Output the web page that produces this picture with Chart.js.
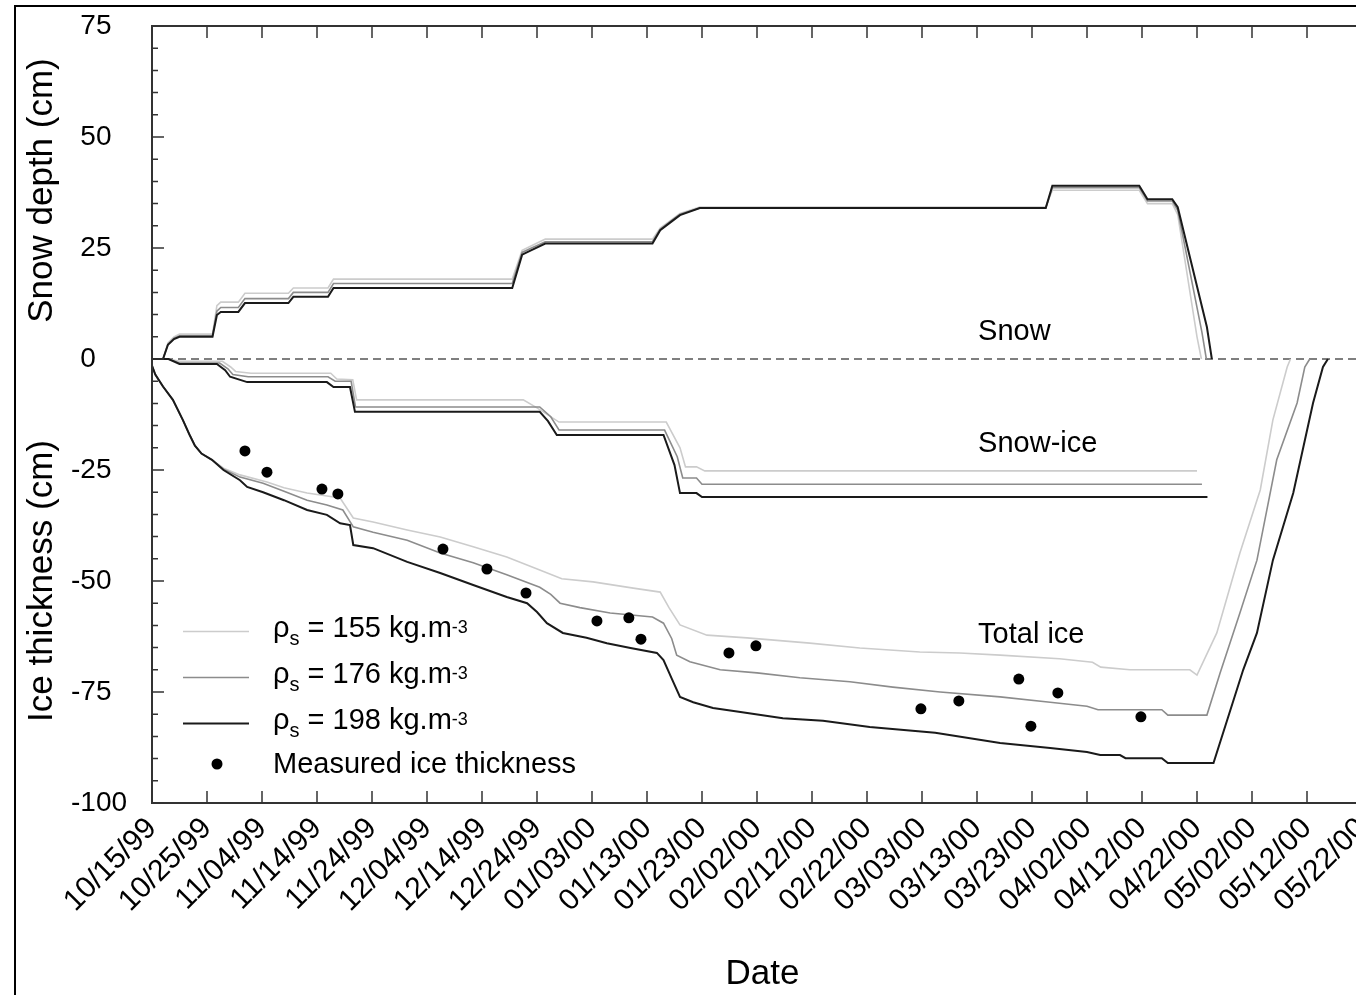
<!DOCTYPE html>
<html>
<head>
<meta charset="utf-8">
<title>Snow depth and ice thickness</title>
<script src="https://cdn.jsdelivr.net/npm/chart.js@4.4.1/dist/chart.umd.min.js"></script>
<style>
  html, body { margin: 0; padding: 0; background: #fff; overflow: hidden; }
  #frame { position: absolute; left: 14px; top: 5px; width: 2000px; height: 2000px;
           border-left: 2px solid #000; border-top: 2px solid #000; }
  #chart { position: absolute; left: 0; top: 0; }
</style>
</head>
<body>
<div id="frame"></div>
<canvas id="chart" width="1380" height="995"></canvas>
<script>
// Axis ticks (days since 10/15/99)
const tickDays = [0, 10, 20, 30, 40, 50, 60, 70, 80, 90, 100, 110, 120, 130, 140, 150, 160, 170, 180, 190, 200, 210, 220];
const tickLabels = ["10/15/99", "10/25/99", "11/04/99", "11/14/99", "11/24/99", "12/04/99", "12/14/99", "12/24/99",
  "01/03/00", "01/13/00", "01/23/00", "02/02/00", "02/12/00", "02/22/00", "03/03/00", "03/13/00", "03/23/00",
  "04/02/00", "04/12/00", "04/22/00", "05/02/00", "05/12/00", "05/22/00"];
const yTicks = [-100, -75, -50, -25, 0, 25, 50, 75];

// Snow depth (cm), [day, value]
const snow198 = [[0,0],[2,0],[2.9,3.2],[4,4.5],[5,5],[11,5],[11.8,9.9],[12.5,10.6],[15.7,10.6],[16.9,12.6],[24.8,12.6],[25.7,14],[32,14],[33,16],
  [65.5,16],[67.3,23.5],[69,24.5],[71.5,26],[91,26],[92.4,29],[94.5,31],[96,32.4],[99.6,34],[162.5,34],[163.7,39],[179.5,39],[181,36],
  [185.5,36],[186.5,34.2],[191.8,7.2],[192.7,0]];
const snow176 = [[0,0],[2,0],[2.9,3.3],[4,4.7],[5,5.2],[11,5.2],[11.8,10.8],[12.5,11.6],[15.7,11.6],[16.9,13.6],[24.8,13.6],[25.7,15],[32,15],[33,17],
  [65.5,17],[67.3,24],[69,25],[71.5,26.4],[91,26.4],[92.4,29.2],[94.5,31.2],[96,32.6],[99.6,34],[162.5,34],[163.7,38.6],[179.5,38.6],[181,35.6],
  [185.5,35.6],[186.5,33.5],[190.9,6],[191.7,0]];
const snow155 = [[0,0],[2,0],[2.9,3.6],[4,5],[5,5.6],[11,5.6],[11.8,12],[12.5,12.8],[15.7,12.8],[16.9,14.8],[24.8,14.8],[25.7,16],[32,16],[33,18],
  [65.5,18],[67.3,24.5],[69,25.5],[71.5,27],[91,27],[92.4,29.5],[94.5,31.4],[96,32.8],[99.6,34.2],[162.5,34.2],[163.7,38],[179.5,38],[181,35],
  [185.5,35],[186.5,32.5],[190,5],[190.8,0]];

// Snow-ice thickness (cm, negative downwards)
const snowIce198 = [[0,0],[3,0],[5,-1.1],[11.8,-1.1],[13.3,-2.5],[14.2,-4],[17.3,-5.2],[31.8,-5.2],[33,-6.3],[36,-6.3],[36.9,-11.9],
  [70.5,-11.9],[72,-14],[73.6,-17.1],[93,-17.1],[95,-23.9],[96,-30.2],[99,-30.2],[100,-31.1],[191.9,-31.1]];
const snowIce176 = [[0,0],[3,0],[5,-0.9],[12.3,-0.9],[13.8,-2.2],[14.7,-3.5],[17.5,-4],[32,-4],[33.3,-5],[36.2,-5],[37,-10.8],
  [70.5,-10.8],[72.5,-13],[74,-16],[93.2,-16],[95.5,-22],[96.5,-26.8],[99,-26.8],[100,-28.2],[190.9,-28.2]];
const snowIce155 = [[0,0],[3,0],[5,-0.5],[12.8,-0.5],[14.3,-1.8],[15.2,-2.8],[18,-3.2],[32.5,-3.2],[33.6,-4.5],[36.5,-4.7],[37.2,-9.2],
  [67.5,-9.2],[70,-11],[74,-14.2],[93.5,-14.2],[96,-20],[97,-24.3],[99,-24.3],[100.5,-25.2],[190,-25.2]];

// Total ice thickness (cm, negative downwards)
const totalIce198 = [[0,-1.5],[0.6,-3.5],[2,-6.2],[3.8,-9.2],[5.6,-13.7],[6.8,-17],[7.8,-19.5],[9,-21.3],[10.9,-22.7],[13,-25],[16,-27.3],
  [17.3,-28.8],[20.2,-30],[24,-31.8],[28.2,-34],[31.8,-35.1],[34.2,-37],[36,-37.4],[36.6,-41.9],[40.2,-42.6],[46.4,-45.7],[52.4,-48.2],
  [58.4,-50.9],[64.5,-53.6],[68.2,-55],[70,-57],[71.8,-59.5],[74.7,-61.7],[79,-62.8],[82.7,-64],[87,-65.1],[91.8,-66.2],[93,-67.8],
  [94.5,-72],[96,-76.1],[98.4,-77.3],[102,-78.6],[107,-79.5],[114.7,-80.9],[122,-81.5],[130.5,-82.9],[142.4,-84.2],[154.2,-86.5],
  [163.3,-87.6],[170,-88.5],[172.4,-89.2],[176,-89.2],[177,-89.9],[183.6,-89.9],[184.7,-91],[193,-91],[198.4,-70],[200.9,-61.7],
  [203.8,-45.3],[207.5,-30.2],[211.1,-9.9],[212.9,-1.8],[213.8,0]];
const totalIce176 = [[0,-1.5],[0.6,-3.5],[2,-6.2],[3.8,-9.2],[5.6,-13.7],[6.8,-17],[7.8,-19.5],[9,-21.3],[10.9,-22.7],[13,-24.8],[16,-26.6],
  [20.2,-28],[24,-29.8],[28.2,-31.8],[31.8,-32.9],[34.7,-34],[36.6,-37.8],[40.2,-39],[46.4,-40.8],[52.4,-43.7],[58.4,-45.9],[64.5,-48.6],
  [70.5,-51.4],[72.5,-53],[74.2,-55],[77.8,-56],[83.3,-57.2],[91,-58.1],[93,-59.5],[94.5,-63],[95.4,-66.7],[97.8,-68.2],[103.3,-70],
  [110,-70.7],[117.8,-71.8],[126.9,-72.7],[134.7,-73.9],[143.3,-75],[154.2,-76.1],[163.3,-77.3],[170,-78.2],[172,-79],[183.6,-79],
  [184.7,-80.2],[191.8,-80.2],[194.2,-70.7],[197.8,-57.2],[200.9,-45.3],[204.5,-22.7],[208.2,-9.9],[209.6,-1.8],[210.5,0]];
const totalIce155 = [[0,-1.5],[0.6,-3.5],[2,-6.2],[3.8,-9.2],[5.6,-13.7],[6.8,-17],[7.8,-19.5],[9,-21.3],[10.9,-22.7],[13,-24.6],[16,-26.1],
  [20.9,-27.7],[24,-29],[28.2,-30.2],[34.2,-31.3],[36.6,-35.8],[40.2,-36.7],[46.4,-38.5],[52.4,-40.1],[58.4,-42.3],[64.5,-44.6],
  [70.5,-47.5],[74.5,-49.5],[80.2,-50.2],[87.5,-51.6],[92.4,-52.5],[94,-56],[96,-59.9],[100.9,-62.2],[108.2,-62.8],[119.6,-64],
  [128.7,-65.1],[139.6,-66],[146.9,-66.2],[154.2,-66.7],[165,-67.5],[171,-68.3],[172.5,-69.4],[177.8,-70],[188.7,-70],[190,-71.2],
  [193.6,-61.7],[197.8,-43.7],[201.5,-29.5],[203.8,-13.7],[206.4,-1.8],[207,0]];

// Measured ice thickness
const measuredIce = [[16.9,-20.7],[20.9,-25.5],[30.9,-29.3],[33.8,-30.4],[52.9,-42.8],[60.9,-47.3],[68,-52.7],[80.9,-59],[86.7,-58.3],
  [88.9,-63.1],[104.9,-66.2],[109.8,-64.6],[139.8,-78.8],[146.7,-77],[157.6,-72.1],[159.8,-82.7],[164.7,-75.2],[179.8,-80.6]];

const densities = ["155", "176", "198"];
const lineColors = ["#cccccc", "#8c8c8c", "#1a1a1a"];
const lineWidths = [1.6, 1.6, 2];

const FONT = "'Liberation Sans', Arial, Helvetica, sans-serif";
const toXY = (pts) => pts.map((p) => ({ x: p[0], y: p[1] }));

function lineSet(pts, i) {
  return { data: toXY(pts), borderColor: lineColors[i], borderWidth: lineWidths[i], pointRadius: 0, tension: 0 };
}

// Frame with inward ticks
const axisFrame = {
  id: "axisFrame",
  afterDatasetsDraw(chart) {
    const { ctx, chartArea: a, scales: { x, y } } = chart;
    ctx.save();
    ctx.strokeStyle = "#333";
    ctx.lineWidth = 2;
    ctx.strokeRect(a.left, a.top, a.right - a.left, a.bottom - a.top);
    ctx.lineWidth = 1.5;
    ctx.beginPath();
    tickDays.forEach((d) => {
      const px = x.getPixelForValue(d);
      ctx.moveTo(px, a.bottom); ctx.lineTo(px, a.bottom - 12);
      ctx.moveTo(px, a.top); ctx.lineTo(px, a.top + 12);
    });
    for (let v = -100; v <= 75; v += 5) {
      const py = y.getPixelForValue(v);
      const len = v % 25 === 0 ? 12 : 6;
      ctx.moveTo(a.left, py); ctx.lineTo(a.left + len, py);
      ctx.moveTo(a.right, py); ctx.lineTo(a.right - len, py);
    }
    ctx.stroke();
    ctx.restore();
  }
};

// Y titles, region labels and legend
const labelsAndLegend = {
  id: "labelsAndLegend",
  afterDraw(chart) {
    const { ctx, scales: { x, y } } = chart;
    ctx.save();
    ctx.fillStyle = "#000";

    // y axis titles
    ctx.font = "35px " + FONT;
    ctx.textAlign = "center";
    [["Snow depth (cm)", 190.5], ["Ice thickness (cm)", 581]].forEach(([t, cy]) => {
      ctx.save();
      ctx.translate(52, cy);
      ctx.rotate(-Math.PI / 2);
      ctx.fillText(t, 0, 0);
      ctx.restore();
    });

    // region labels
    ctx.textAlign = "left";
    ctx.font = "29px " + FONT;
    [["Snow", 4.3], ["Snow-ice", -20.9], ["Total ice", -64]].forEach(([t, v]) => {
      ctx.fillText(t, x.getPixelForValue(150.2), y.getPixelForValue(v));
    });

    // legend
    densities.forEach((dens, i) => {
      const base = 637 + i * 46;
      ctx.strokeStyle = lineColors[i];
      ctx.lineWidth = lineWidths[i];
      ctx.beginPath();
      ctx.moveTo(183, base - 5.5);
      ctx.lineTo(249, base - 5.5);
      ctx.stroke();
      let tx = 273;
      ctx.font = "29px " + FONT;
      ctx.fillText("ρ", tx, base);
      tx += ctx.measureText("ρ").width;
      ctx.font = "20px " + FONT;
      ctx.fillText("s", tx, base + 8);
      tx += ctx.measureText("s").width;
      ctx.font = "29px " + FONT;
      const t = " = " + dens + " kg.m";
      ctx.fillText(t, tx, base);
      tx += ctx.measureText(t).width;
      ctx.font = "18px " + FONT;
      ctx.fillText("-3", tx, base - 4);
    });
    ctx.beginPath();
    ctx.arc(217, 764, 5.5, 0, Math.PI * 2);
    ctx.fill();
    ctx.font = "29px " + FONT;
    ctx.fillText("Measured ice thickness", 273, 773);
    ctx.restore();
  }
};

const ctx = document.getElementById("chart").getContext("2d");
new Chart(ctx, {
  type: "line",
  data: {
    datasets: [
      { data: toXY(measuredIce), showLine: false, pointRadius: 5.5, pointBackgroundColor: "#000", pointBorderWidth: 0 },
      lineSet(snow198, 2), lineSet(snowIce198, 2), lineSet(totalIce198, 2),
      lineSet(snow176, 1), lineSet(snowIce176, 1), lineSet(totalIce176, 1),
      lineSet(snow155, 0), lineSet(snowIce155, 0), lineSet(totalIce155, 0),
      { data: [{ x: 0, y: 0 }, { x: 222, y: 0 }], borderColor: "#555", borderWidth: 1.5, borderDash: [8, 5], pointRadius: 0 }
    ]
  },
  options: {
    responsive: false,
    animation: false,
    layout: { padding: { left: 71, top: 26, right: 7, bottom: 0 } },
    plugins: { legend: { display: false }, tooltip: { enabled: false } },
    scales: {
      x: {
        type: "linear", min: 0, max: 222,
        grid: { display: false, drawTicks: false },
        border: { display: false },
        afterBuildTicks: (s) => { s.ticks = tickDays.map((v) => ({ value: v })); },
        afterFit: (s) => { s.height = 192; s.paddingLeft = 0; s.paddingRight = 0; },
        ticks: {
          autoSkip: false, minRotation: 45, maxRotation: 45, padding: 8,
          color: "#000", font: { family: FONT, size: 30 },
          callback: (v, i) => tickLabels[i]
        },
        title: { display: true, text: "Date", color: "#000", font: { family: FONT, size: 35 }, padding: { top: 0, bottom: 0 } }
      },
      y: {
        min: -100, max: 75,
        grid: { display: false, drawTicks: false },
        border: { display: false },
        afterBuildTicks: (s) => { s.ticks = yTicks.map((v) => ({ value: v })); },
        afterFit: (s) => { s.width = 81; s.paddingTop = 0; s.paddingBottom = 0; },
        ticks: {
          crossAlign: "far", color: "#000", font: { family: FONT, size: 28 },
          callback: (v) => (v < 0 ? String(v) : "\u2004" + v)
        }
      }
    }
  },
  plugins: [axisFrame, labelsAndLegend]
});
</script>
</body>
</html>
